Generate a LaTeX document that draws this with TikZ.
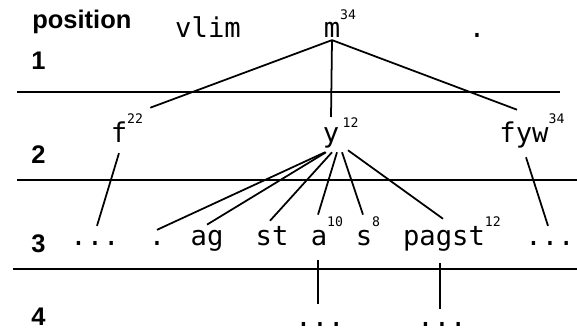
\documentclass[tikz,border=0pt]{standalone}
\usepackage{fontspec}
\setsansfont{Liberation Sans}
\setmonofont{DejaVu Sans Mono}
\usepackage{tikz}
\usetikzlibrary{positioning,calc}
\newcommand{\supidx}[2][10.5pt]{\rlap{\smash{\raisebox{#1}{\fontsize{7.5}{7.5}\selectfont #2}}}}
\tikzset{
  tok/.style={font=\ttfamily\fontsize{15.5}{16}\selectfont, inner sep=1pt, anchor=base},
  lvl/.style={font=\sffamily\bfseries\fontsize{14.5}{16}\selectfont, inner sep=0pt, anchor=base west},
  link/.style={draw, line width=1pt},
  sepline/.style={draw, line width=0.9pt},
}

\begin{document}
\begin{tikzpicture}[x=0.02cm, y=-0.02cm]
  \useasboundingbox (0,0) rectangle (577,331);

  % level labels
  \node[lvl] (lpos) at (32,29) {position};
  \node[lvl] (l1) at (31,70) {1};
  \node[lvl] (l2) at (31,163) {2};
  \node[lvl] (l3) at (31,252) {3};
  \node[lvl] (l4) at (31,325) {4};

  % separators
  \draw[sepline] (17,92) -- (560,92);
  \draw[sepline] (17,180) -- (577,180);
  \draw[sepline] (13,269) -- (577,269);

  % row 1
  \node[tok] (vlim) at (208,38) {vlim};
  \node[tok] (m) at (332,38) {m\supidx{34}};
  \node[tok] (dtop) at (477,38) {.};

  % row 2
  \node[tok] (f) at (119,142) {f\supidx{22}};
  \node[tok] (y) at (331,142) {y\supidx[8pt]{\hspace{2pt}12}};
  \node[tok] (fyw) at (524,142) {fyw\supidx{34}};

  % row 3
  \node[tok] (dl) at (95,245) {...};
  \node[tok] (pt) at (157,245) {.};
  \node[tok] (ag) at (207,245) {ag};
  \node[tok] (st) at (272,245) {st};
  \node[tok] (a) at (319,245) {a\supidx{10}};
  \node[tok] (s) at (364,245) {s\supidx{8}};
  \node[tok] (pagst) at (444,245) {pagst\supidx{12}};
  \node[tok] (dr) at (550,245) {...};

  % row 4
  \node[tok] (da) at (320,326) {...};
  \node[tok] (dp) at (442,326) {...};

  % m splits
  \draw[link] (m.south) -- ([shift={(21,-11.5)}]f.north east);
  \draw[link] (m.south) -- ([shift={(0,-8)}]y.north);
  \draw[link] (m.south) -- ([shift={(-7,-9.5)}]fyw.north);

  % row 2 -> row 3
  \draw[link] ([shift={(0,9)}]f.south) -- ([shift={(2,-13)}]dl.north);
  \draw[link] ([shift={(-6,2.5)}]y.south) -- ([shift={(0,-9)}]pt.north);
  \draw[link] ([shift={(-5,2.5)}]y.south) -- ([shift={(0,-3)}]ag.north);
  \draw[link] ([shift={(1,2.5)}]y.south) -- ([shift={(-2,-3)}]st.north);
  \draw[link] ([shift={(6,2.5)}]y.south) -- ([shift={(-1,-13)}]a.north);
  \draw[link] ([shift={(11,2.5)}]y.south) -- ([shift={(-1,-13)}]s.north);
  \draw[link] ([shift={(17,0.5)}]y.south) -- ([shift={(-1,-5)}]pagst.north);
  \draw[link] ([shift={(2,7.5)}]fyw.south) -- ([shift={(-2,-13)}]dr.north);

  % row 3 -> row 4
  \draw[link] ([shift={(-1,13)}]a.south) -- ([shift={(-2,-16)}]da.north);
  \draw[link] ([shift={(-4,10.5)}]pagst.south) -- ([shift={(-2,-11)}]dp.north);
\end{tikzpicture}
\end{document}
